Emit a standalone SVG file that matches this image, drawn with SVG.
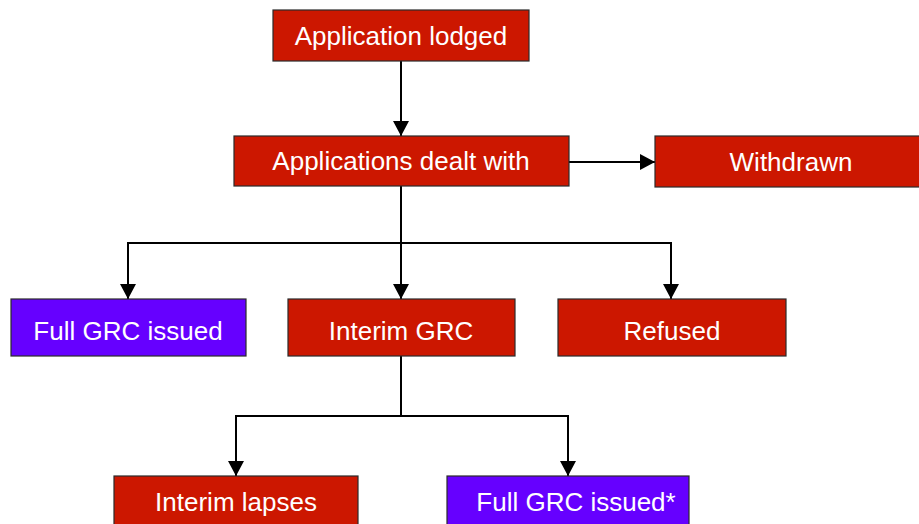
<svg xmlns="http://www.w3.org/2000/svg" width="919" height="524" viewBox="0 0 919 524">
<style>
.red{fill:#CC1700;stroke:#2a2a2a;stroke-width:1.2}
.pur{fill:#6600FF;stroke:#2a2a2a;stroke-width:1.2}
.lbl{font-family:"Liberation Sans",Arial,sans-serif;font-size:26px;fill:#ffffff;text-anchor:middle}
.ln{fill:none;stroke:#000;stroke-width:2}
</style>
<defs>
<marker id="ah" viewBox="0 0 15 16" refX="15" refY="8" markerWidth="15" markerHeight="16" markerUnits="userSpaceOnUse" orient="auto">
<path d="M0,0 L15,8 L0,16 Z" fill="#000"/>
</marker>
</defs>
<rect width="919" height="524" fill="#fff"/>
<g id="connectors">
<path class="ln" d="M401,61 V136" marker-end="url(#ah)"/>
<path class="ln" d="M569,162 H655" marker-end="url(#ah)"/>
<path class="ln" d="M401,186 V299" marker-end="url(#ah)"/>
<path class="ln" d="M401,243 H128 V299" marker-end="url(#ah)"/>
<path class="ln" d="M401,243 H671 V299" marker-end="url(#ah)"/>
<path class="ln" d="M401,356 V416 H236 V476" marker-end="url(#ah)"/>
<path class="ln" d="M401,416 H568 V476" marker-end="url(#ah)"/>
</g>
<g id="n-lodged">
<rect class="red" x="273" y="10" width="256" height="51"/>
<text class="lbl" x="401" y="45">Application lodged</text>
</g>
<g id="n-dealt">
<rect class="red" x="234" y="136" width="335" height="50"/>
<text class="lbl" x="401" y="170">Applications dealt with</text>
</g>
<g id="n-withdrawn">
<rect class="red" x="655" y="136" width="272" height="51"/>
<text class="lbl" x="791" y="171">Withdrawn</text>
</g>
<g id="n-fullgrc">
<rect class="pur" x="11" y="299" width="235" height="57"/>
<text class="lbl" x="128" y="340">Full GRC issued</text>
</g>
<g id="n-interim">
<rect class="red" x="288" y="299" width="227" height="57"/>
<text class="lbl" x="401" y="340">Interim GRC</text>
</g>
<g id="n-refused">
<rect class="red" x="558" y="299" width="228" height="57"/>
<text class="lbl" x="672" y="340">Refused</text>
</g>
<g id="n-lapses">
<rect class="red" x="114" y="476" width="244" height="57"/>
<text class="lbl" x="236" y="511">Interim lapses</text>
</g>
<g id="n-fullgrc2">
<rect class="pur" x="447" y="476" width="242" height="57"/>
<text class="lbl" x="576" y="511">Full GRC issued*</text>
</g>
</svg>
